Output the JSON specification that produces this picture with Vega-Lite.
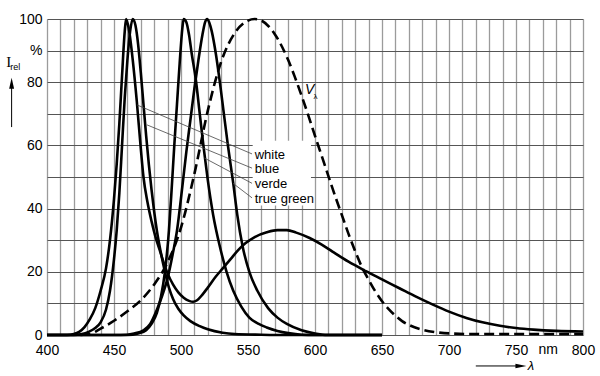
{
  "$schema": "https://vega.github.io/schema/vega-lite/v6.json",
  "width": 536,
  "height": 316,
  "autosize": {"type": "none"},
  "padding": {"left": 47, "top": 19, "right": 17, "bottom": 41},
  "background": "white",
  "config": {"view": {"stroke": null}, "font": "Liberation Sans Narrow, Liberation Sans, Arial"},
  "datasets": {
    "curves": [
      {"s":"white","x":400,"y":0},{"s":"white","x":415,"y":0},{"s":"white","x":420,"y":0.3},{"s":"white","x":424,"y":1},{"s":"white","x":428,"y":2.5},{"s":"white","x":432,"y":5},{"s":"white","x":436,"y":8.5},{"s":"white","x":440,"y":14},{"s":"white","x":444,"y":21},{"s":"white","x":447,"y":30},{"s":"white","x":450,"y":43},{"s":"white","x":452,"y":54},{"s":"white","x":454,"y":67},{"s":"white","x":456,"y":82},{"s":"white","x":458,"y":96},{"s":"white","x":459,"y":100},{"s":"white","x":461,"y":97},{"s":"white","x":464,"y":87},{"s":"white","x":467,"y":74},{"s":"white","x":470,"y":59},{"s":"white","x":472,"y":50},{"s":"white","x":475,"y":42},{"s":"white","x":478,"y":36},{"s":"white","x":481,"y":31},{"s":"white","x":484,"y":27},{"s":"white","x":487,"y":23},{"s":"white","x":490,"y":19.5},{"s":"white","x":494,"y":16},{"s":"white","x":498,"y":13.5},{"s":"white","x":502,"y":11.8},{"s":"white","x":506,"y":10.8},{"s":"white","x":509,"y":10.5},{"s":"white","x":512,"y":11},{"s":"white","x":516,"y":12.8},{"s":"white","x":520,"y":15},{"s":"white","x":526,"y":18.5},{"s":"white","x":531,"y":21},{"s":"white","x":537,"y":24},{"s":"white","x":543,"y":27},{"s":"white","x":548,"y":29},{"s":"white","x":555,"y":31},{"s":"white","x":564,"y":32.5},{"s":"white","x":572,"y":33.2},{"s":"white","x":579,"y":33.2},{"s":"white","x":586,"y":32.4},{"s":"white","x":596,"y":30.7},{"s":"white","x":605,"y":28.6},{"s":"white","x":613,"y":26.4},{"s":"white","x":625,"y":23.2},{"s":"white","x":638,"y":20.2},{"s":"white","x":650,"y":17.6},{"s":"white","x":663,"y":14.8},{"s":"white","x":675,"y":12.2},{"s":"white","x":688,"y":9.6},{"s":"white","x":700,"y":7.4},{"s":"white","x":713,"y":5.4},{"s":"white","x":725,"y":4},{"s":"white","x":738,"y":2.9},{"s":"white","x":750,"y":2.2},{"s":"white","x":763,"y":1.7},{"s":"white","x":780,"y":1.3},{"s":"white","x":800,"y":1.1},
      {"s":"blue","x":400,"y":0},{"s":"blue","x":420,"y":0},{"s":"blue","x":426,"y":0.3},{"s":"blue","x":431,"y":1},{"s":"blue","x":436,"y":2.2},{"s":"blue","x":440,"y":4},{"s":"blue","x":444,"y":8},{"s":"blue","x":447,"y":14},{"s":"blue","x":450,"y":24},{"s":"blue","x":452,"y":33},{"s":"blue","x":454,"y":45},{"s":"blue","x":456,"y":60},{"s":"blue","x":458,"y":75},{"s":"blue","x":460,"y":87},{"s":"blue","x":462,"y":96},{"s":"blue","x":464,"y":100},{"s":"blue","x":466,"y":98},{"s":"blue","x":468,"y":92},{"s":"blue","x":470,"y":83},{"s":"blue","x":472,"y":73},{"s":"blue","x":474,"y":63},{"s":"blue","x":476,"y":54},{"s":"blue","x":478,"y":46},{"s":"blue","x":480,"y":39},{"s":"blue","x":482,"y":33},{"s":"blue","x":485,"y":26},{"s":"blue","x":488,"y":20},{"s":"blue","x":491,"y":15},{"s":"blue","x":494,"y":11.5},{"s":"blue","x":498,"y":8.3},{"s":"blue","x":502,"y":6.2},{"s":"blue","x":507,"y":4.4},{"s":"blue","x":514,"y":2.8},{"s":"blue","x":520,"y":1.8},{"s":"blue","x":531,"y":0.7},{"s":"blue","x":540,"y":0.3},{"s":"blue","x":560,"y":0.1},{"s":"blue","x":580,"y":0},{"s":"blue","x":650,"y":0},
      {"s":"verde","x":400,"y":0},{"s":"verde","x":460,"y":0},{"s":"verde","x":468,"y":0.5},{"s":"verde","x":474,"y":1.5},{"s":"verde","x":478,"y":3.5},{"s":"verde","x":482,"y":7},{"s":"verde","x":485,"y":12},{"s":"verde","x":488,"y":20},{"s":"verde","x":491,"y":33},{"s":"verde","x":493,"y":46},{"s":"verde","x":495,"y":60},{"s":"verde","x":497,"y":73},{"s":"verde","x":499,"y":86},{"s":"verde","x":501,"y":97},{"s":"verde","x":502,"y":100},{"s":"verde","x":504,"y":99},{"s":"verde","x":506,"y":95},{"s":"verde","x":508,"y":89},{"s":"verde","x":511,"y":81},{"s":"verde","x":514,"y":70},{"s":"verde","x":517,"y":59},{"s":"verde","x":520,"y":49},{"s":"verde","x":524,"y":38},{"s":"verde","x":529,"y":28},{"s":"verde","x":534,"y":20},{"s":"verde","x":539,"y":14},{"s":"verde","x":545,"y":9},{"s":"verde","x":551,"y":5.5},{"s":"verde","x":558,"y":3.5},{"s":"verde","x":564,"y":2.4},{"s":"verde","x":572,"y":1.3},{"s":"verde","x":580,"y":0.6},{"s":"verde","x":590,"y":0.1},{"s":"verde","x":600,"y":0},{"s":"verde","x":650,"y":0},
      {"s":"truegreen","x":400,"y":0},{"s":"truegreen","x":455,"y":0},{"s":"truegreen","x":465,"y":0.5},{"s":"truegreen","x":472,"y":1.5},{"s":"truegreen","x":477,"y":3.5},{"s":"truegreen","x":482,"y":8},{"s":"truegreen","x":486,"y":12.5},{"s":"truegreen","x":490,"y":18},{"s":"truegreen","x":494,"y":26},{"s":"truegreen","x":497,"y":33},{"s":"truegreen","x":501,"y":47},{"s":"truegreen","x":504,"y":58},{"s":"truegreen","x":507,"y":68},{"s":"truegreen","x":510,"y":78},{"s":"truegreen","x":513,"y":87},{"s":"truegreen","x":516,"y":95},{"s":"truegreen","x":518,"y":99},{"s":"truegreen","x":519.5,"y":100},{"s":"truegreen","x":521,"y":99},{"s":"truegreen","x":523,"y":96},{"s":"truegreen","x":526,"y":89},{"s":"truegreen","x":529,"y":80},{"s":"truegreen","x":532,"y":70},{"s":"truegreen","x":535,"y":60},{"s":"truegreen","x":539,"y":48},{"s":"truegreen","x":542,"y":38},{"s":"truegreen","x":546,"y":28},{"s":"truegreen","x":551,"y":20},{"s":"truegreen","x":557,"y":14},{"s":"truegreen","x":565,"y":8.5},{"s":"truegreen","x":572,"y":5.5},{"s":"truegreen","x":579,"y":3.5},{"s":"truegreen","x":590,"y":1.5},{"s":"truegreen","x":600,"y":0.5},{"s":"truegreen","x":609,"y":0},{"s":"truegreen","x":650,"y":0}
    ],
    "vlambda": [
      {"x":425,"y":0},{"x":432,"y":0.3},{"x":440,"y":2},{"x":450,"y":4.5},{"x":460,"y":7.5},{"x":470,"y":11},{"x":480,"y":16},{"x":490,"y":23},{"x":500,"y":34},{"x":510,"y":51},{"x":520,"y":71},{"x":530,"y":86.5},{"x":540,"y":95.5},{"x":550,"y":99.5},{"x":555,"y":100},{"x":560,"y":99.5},{"x":570,"y":95.2},{"x":580,"y":87},{"x":585,"y":81.6},{"x":590,"y":75.7},{"x":595,"y":69.5},{"x":600,"y":63},{"x":605,"y":56.7},{"x":610,"y":50.3},{"x":615,"y":44},{"x":620,"y":38},{"x":625,"y":32},{"x":630,"y":26.5},{"x":635,"y":21.5},{"x":640,"y":17.5},{"x":645,"y":13.8},{"x":650,"y":10.7},{"x":655,"y":8.2},{"x":660,"y":6.1},{"x":665,"y":4.4},{"x":670,"y":3.2},{"x":680,"y":1.7},{"x":690,"y":0.9},{"x":700,"y":0.5},{"x":720,"y":0.3},{"x":800,"y":0.3}
    ],
    "box": [{"x":553.5,"x2":597,"y":41,"y2":61.5}],
    "leaders": [
      {"x":467.2,"y":72.8,"x2":553,"y2":57.3},
      {"x":474.6,"y":66.5,"x2":553,"y2":52.8},
      {"x":517.5,"y":56,"x2":553,"y2":48},
      {"x":538.8,"y":48,"x2":553,"y2":43.4}
    ],
    "labels": [
      {"t":"white","x":555,"y":57},
      {"t":"blue","x":555,"y":52.5},
      {"t":"verde","x":555,"y":47.8},
      {"t":"true green","x":555,"y":43}
    ],
    "arrows": [
      {"x":373.6,"y":65.8,"x2":373.6,"y2":79},
      {"x":720,"y":-9.8,"x2":751,"y2":-9.8}
    ]
  },
  "encoding": {
    "x": {"field": "x", "type": "quantitative",
      "scale": {"domain": [400, 800], "nice": false, "zero": false},
      "axis": {"values": [400,410,420,430,440,450,460,470,480,490,500,510,520,530,540,550,560,570,580,590,600,610,620,630,640,650,660,670,680,690,700,710,720,730,740,750,760,770,780,790,800],
        "format": "d", "labelExpr": "datum.value % 50 == 0 ? datum.label : ''",
        "grid": true, "gridColor": "#9b9b9b", "gridWidth": 1.3, "gridOpacity": 1,
        "ticks": false, "tickSize": 0, "domain": false, "title": null,
        "labelFontSize": 14, "labelColor": "#000", "labelBaseline": "middle", "labelPadding": 15,
        "labelFlush": false, "labelOverlap": false}},
    "y": {"field": "y", "type": "quantitative",
      "scale": {"domain": [0, 100], "nice": false, "zero": false},
      "axis": {"values": [0,10,20,30,40,50,60,70,80,90,100],
        "labelExpr": "datum.value == 90 ? '%' : (datum.value % 20 == 0 ? datum.label : '')",
        "grid": true, "gridColor": "#555555", "gridWidth": 1, "gridOpacity": 1,
        "ticks": false, "tickSize": 0, "domain": false, "title": null,
        "labelFontSize": 14, "labelColor": "#000", "labelPadding": 5,
        "labelFlush": false, "labelOverlap": false}}
  },
  "layer": [
    {"data": {"name": "box"}, "mark": {"type": "rect", "fill": "white", "stroke": null},
     "encoding": {"x2": {"field": "x2"}, "y2": {"field": "y2"}}},
    {"data": {"name": "curves"}, "mark": {"type": "line", "color": "#000", "strokeWidth": 2.6, "interpolate": "monotone", "clip": false},
     "encoding": {"detail": {"field": "s", "type": "nominal"}, "order": {"field": "x", "type": "quantitative"}}},
    {"data": {"name": "vlambda"}, "mark": {"type": "line", "color": "#000", "strokeWidth": 2.6, "strokeDash": [10, 5], "interpolate": "monotone"},
     "encoding": {}},
    {"data": {"name": "leaders"}, "mark": {"type": "rule", "color": "#444", "strokeWidth": 0.8},
     "encoding": {"x2": {"field": "x2"}, "y2": {"field": "y2"}}},
    {"data": {"name": "labels"}, "mark": {"type": "text", "align": "left", "baseline": "middle", "fontSize": 13, "color": "#000"},
     "encoding": {"text": {"field": "t"}}},
    {"data": {"values": [{"x": 596, "y": 77.5, "t": "V"}]}, "mark": {"type": "text", "align": "center", "baseline": "middle", "fontSize": 14, "fontStyle": "italic", "font": "Liberation Sans", "color": "#000"},
     "encoding": {"text": {"field": "t"}}},
    {"data": {"values": [{"x": 600.3, "y": 75.2, "t": "λ"}]}, "mark": {"type": "text", "align": "center", "baseline": "middle", "fontSize": 8, "font": "Liberation Sans", "color": "#000"},
     "encoding": {"text": {"field": "t"}}},
    {"data": {"values": [{"x": 371.5, "y": 86.4, "t": "I"}]}, "mark": {"type": "text", "align": "center", "baseline": "middle", "fontSize": 15, "font": "Liberation Serif", "color": "#000", "clip": false},
     "encoding": {"text": {"field": "t"}}},
    {"data": {"values": [{"x": 372.6, "y": 84.9, "t": "rel"}]}, "mark": {"type": "text", "align": "left", "baseline": "middle", "fontSize": 9, "font": "Liberation Sans", "color": "#000", "clip": false},
     "encoding": {"text": {"field": "t"}}},
    {"data": {"values": [{"x": 774, "y": -4.8, "t": "nm"}]}, "mark": {"type": "text", "align": "center", "baseline": "middle", "fontSize": 14, "color": "#000", "clip": false},
     "encoding": {"text": {"field": "t"}}},
    {"data": {"values": [{"x": 758.8, "y": -9.8, "t": "λ"}]}, "mark": {"type": "text", "align": "left", "baseline": "middle", "fontSize": 13, "fontStyle": "italic", "font": "Liberation Sans", "color": "#000", "clip": false},
     "encoding": {"text": {"field": "t"}}},
    {"data": {"name": "arrows"}, "mark": {"type": "rule", "color": "#000", "strokeWidth": 1, "clip": false},
     "encoding": {"x2": {"field": "x2"}, "y2": {"field": "y2"}}},
    {"data": {"values": [{"x": 373.6, "y": 79.7}]}, "mark": {"type": "point", "shape": "M0,-1L0.45,1L-0.45,1Z", "size": 121, "filled": true, "color": "#000", "opacity": 1, "clip": false},
     "encoding": {}},
    {"data": {"values": [{"x": 753.7, "y": -9.8}]}, "mark": {"type": "point", "shape": "M1,0L-1,0.42L-1,-0.42Z", "size": 121, "filled": true, "color": "#000", "opacity": 1, "clip": false},
     "encoding": {}}
  ]
}
